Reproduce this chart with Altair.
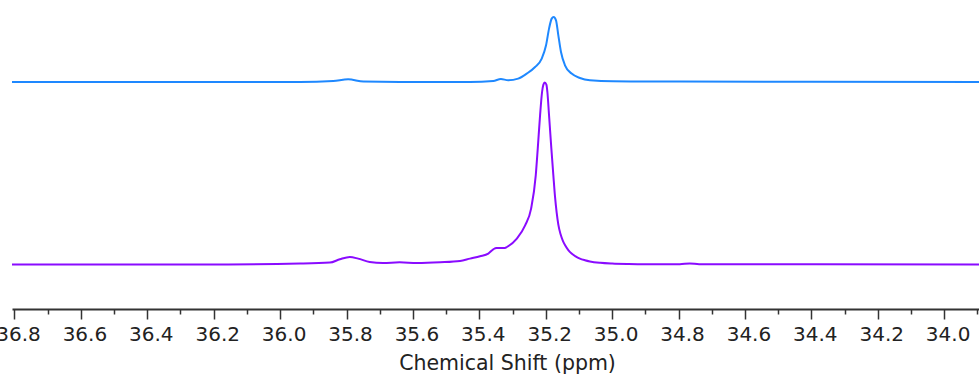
import altair as alt
import pandas as pd

# Upper spectrum: chemical shift (ppm) and intensity above its own baseline (a.u.)
upper_ppm = [36.81, 36.24, 35.94, 35.84, 35.795, 35.749, 35.639, 35.428,
             35.358, 35.335, 35.313, 35.283, 35.257, 35.232, 35.212, 35.199,
             35.190, 35.182, 35.176, 35.169, 35.162, 35.154, 35.142, 35.122,
             35.097, 35.067, 34.997, 34.796, 34.40, 33.89]
upper_int = [0.0, 0.0, 0.0, 1.0, 2.7, 0.4, 0.0, 0.0,
             1.0, 3.0, 1.7, 3.4, 8.4, 15.0, 23.4, 36.7,
             53.4, 63.4, 65.0, 61.7, 46.7, 30.0, 16.7, 8.4,
             4.0, 1.7, 0.7, 0.5, 0.2, 0.0]

# Lower spectrum
lower_ppm = [36.81, 36.241, 35.940, 35.850, 35.820, 35.790, 35.765, 35.730,
             35.690, 35.640, 35.588, 35.518, 35.458, 35.428, 35.398, 35.373,
             35.358, 35.348, 35.323, 35.317, 35.287, 35.262, 35.244, 35.230,
             35.224, 35.217, 35.211, 35.207, 35.203, 35.198, 35.195, 35.190,
             35.183, 35.177, 35.172, 35.167, 35.162, 35.155, 35.148, 35.142,
             35.132, 35.122, 35.110, 35.097, 35.082, 35.067, 35.036, 35.000,
             34.950, 34.900, 34.796, 34.766, 34.738, 34.384, 33.89]
lower_int = [0.0, 0.0, 1.0, 2.0, 5.3, 7.6, 6.0, 2.6,
             1.6, 2.3, 1.6, 2.3, 3.6, 6.0, 8.3, 11.0,
             15.3, 16.6, 16.6, 17.6, 26.0, 39.3, 56.0, 89.3,
             116.0, 149.3, 172.6, 180.0, 182.0, 180.0, 172.6, 149.3,
             116.0, 89.3, 68.0, 52.0, 40.0, 30.0, 23.5, 19.5,
             14.5, 11.0, 8.2, 6.0, 4.4, 3.2, 1.8, 1.0,
             0.5, 0.3, 0.3, 1.2, 0.3, 0.4, 0.0]

# vertical stacking of the two traces
UPPER_OFFSET = 227.0
LOWER_OFFSET = 44.4

df = pd.concat([
    pd.DataFrame({"ppm": upper_ppm, "y": [v + UPPER_OFFSET for v in upper_int], "trace": "upper"}),
    pd.DataFrame({"ppm": lower_ppm, "y": [v + LOWER_OFFSET for v in lower_int], "trace": "lower"}),
])

tick_values = [round(33.9 + 0.1 * i, 1) for i in range(30)]
is_major = "abs(round(datum.value * 10)) % 2 == 0"

x_axis = alt.Axis(
    values=tick_values,
    labelExpr=f"{is_major} ? format(datum.value, '.1f') : ''",
    tickSize={"condition": {"test": is_major, "value": 10}, "value": 5},
    tickColor="#333333",
    tickWidth=1.5,
    domainColor="#333333",
    domainWidth=2,
    grid=False,
    labelFont="DejaVu Sans",
    labelFontSize=20,
    labelColor="#222222",
    labelPadding=5.5,
    labelOffset=3.5,
    labelFlush=False,
    labelOverlap=False,
    title="Chemical Shift (ppm)",
    titleFont="DejaVu Sans",
    titleFontSize=20.5,
    titleFontWeight="normal",
    titleColor="#222222",
    titleX=495,
    titleY=60,
    titleAlign="center",
    titleBaseline="alphabetic",
)

chart = (
    alt.Chart(df)
    .mark_line(strokeWidth=2, interpolate="monotone", clip=True)
    .encode(
        x=alt.X("ppm:Q", scale=alt.Scale(domain=[36.8075, 33.895], nice=False, zero=False), axis=x_axis),
        y=alt.Y("y:Q", scale=alt.Scale(domain=[0, 309], nice=False, zero=False), axis=None),
        color=alt.Color("trace:N", scale=alt.Scale(domain=["upper", "lower"], range=["#1E88FF", "#8A0BFF"]), legend=None),
        order=alt.Order("ppm:Q"),
    )
    .properties(
        width=967,
        height=309,
        autosize=alt.AutoSizeParams(type="none"),
        padding={"left": 12, "top": 0, "right": 0, "bottom": 65},
    )
    .configure(background="white")
    .configure_view(stroke=None, strokeWidth=0)
)

chart.save("out.html", embed_options={"renderer": "svg", "actions": False})
